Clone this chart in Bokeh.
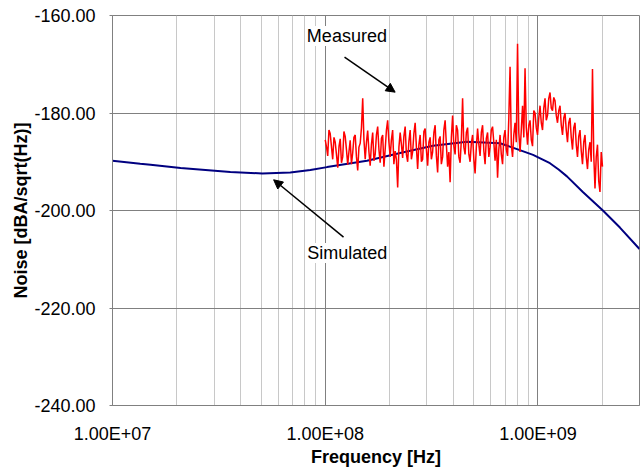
from bokeh.plotting import figure
from bokeh.models import (FixedTicker, CustomJSTickFormatter,
                          Label, Arrow, NormalHead, Range1d)
from bokeh.embed import file_html
from bokeh.resources import INLINE

# ---- data ----
sim_freq_mhz = [10, 13.5, 15.1, 20.9, 35.8, 50.6, 68.5, 85.1, 102, 157, 225, 321,
                464, 663, 797, 948, 1138, 1250, 1368, 1625, 2019, 2427, 3000]
sim_noise = [-189.8, -190.4, -190.6, -191.3, -192.1, -192.4, -192.2, -191.7, -191.1,
             -189.8, -188.2, -186.7, -185.9, -186.2, -187.4, -188.6, -190.3, -191.6,
             -193.0, -196.2, -200.0, -203.5, -207.9]

meas_freq_mhz = [
    100.0, 101.4, 102.7, 104.1, 105.5, 106.9, 108.4, 109.9, 111.4, 112.9,
    114.5, 116.1, 117.6, 119.2, 120.8, 122.4, 124.1, 125.8, 127.5, 129.2,
    131.0, 132.8, 134.6, 136.4, 138.3, 140.2, 142.1, 144.0, 146.0, 148.0,
    150.0, 152.0, 154.1, 156.2, 158.3, 160.5, 162.6, 164.8, 167.1, 169.4,
    171.7, 174.0, 176.4, 178.8, 181.2, 183.7, 186.2, 188.7, 191.3, 193.9,
    196.5, 199.2, 201.9, 204.6, 207.4, 210.2, 213.1, 216.0, 219.0, 222.0,
    225.0, 228.1, 231.1, 234.2, 237.5, 240.7, 244.0, 247.3, 250.7, 254.1,
    257.5, 261.0, 264.6, 268.2, 271.8, 275.5, 279.3, 283.1, 286.9, 290.8,
    294.8, 298.8, 302.9, 307.0, 311.2, 315.4, 319.7, 324.1, 328.5, 333.0,
    337.5, 342.1, 346.7, 351.4, 356.2, 361.0, 366.0, 371.0, 376.0, 381.1,
    386.3, 391.6, 396.9, 402.3, 407.8, 413.3, 418.9, 424.6, 430.4, 436.3,
    442.2, 448.2, 454.3, 460.5, 466.8, 473.2, 479.6, 486.1, 492.7, 499.4,
    506.2, 513.1, 520.1, 527.2, 534.3, 541.6, 549.0, 556.5, 564.0, 571.7,
    579.5, 587.4, 595.3, 603.4, 611.6, 619.9, 628.4, 637.0, 645.6, 654.4,
    663.3, 672.3, 681.5, 690.8, 700.2, 709.7, 719.4, 729.2, 739.1, 749.2,
    759.3, 769.6, 780.1, 790.7, 801.5, 812.4, 823.5, 834.7, 846.1, 857.6,
    869.2, 881.0, 893.1, 905.3, 917.5, 930.0, 942.7, 955.5, 968.5, 981.7,
    995.0, 1008.5, 1022.3, 1036.2, 1050.3, 1064.6, 1079.1, 1093.8, 1108.7, 1123.8,
    1139.1, 1154.6, 1170.3, 1186.2, 1202.4, 1218.8, 1235.3, 1252.1, 1269.2, 1286.5,
    1304.0, 1321.7, 1339.7, 1357.9, 1376.4, 1395.1, 1414.1, 1433.3, 1452.9, 1472.7,
    1492.7, 1513.0, 1533.6, 1554.5, 1575.6, 1597.0, 1618.8, 1640.8, 1663.2, 1685.8,
    1708.8, 1732.1, 1755.6, 1779.5, 1803.7, 1828.2, 1853.2, 1878.4, 1904.0, 1929.9,
    1956.1, 1982.7, 2009.7]
meas_noise = [
    -185.5, -187.0, -188.8, -183.5, -184.2, -186.8, -189.5, -185.0, -186.0, -188.5,
    -191.2, -186.8, -185.3, -190.2, -189.0, -183.8, -184.8, -187.5, -190.6, -188.0,
    -185.6, -190.5, -188.2, -185.0, -184.5, -189.0, -191.8, -187.0, -186.2, -183.0,
    -177.0, -185.5, -189.5, -186.0, -183.6, -188.0, -190.8, -186.5, -184.0, -189.8,
    -188.5, -184.5, -182.8, -187.5, -190.2, -185.2, -184.5, -191.0, -187.5, -183.5,
    -181.5, -186.0, -189.0, -185.5, -183.5, -190.5, -187.8, -189.5, -195.3, -187.0,
    -184.0, -186.5, -189.2, -184.8, -182.8, -188.5, -190.0, -185.8, -183.5, -189.5,
    -188.0, -184.2, -182.0, -187.0, -191.5, -186.5, -184.5, -190.0, -189.5, -183.8,
    -183.2, -187.5, -190.8, -186.0, -185.0, -189.5, -188.0, -184.0, -182.5, -188.8,
    -192.2, -185.5, -184.8, -190.5, -189.0, -183.5, -181.5, -186.5, -191.0, -188.0,
    -194.2, -185.0, -180.5, -186.8, -188.5, -182.5, -183.5, -189.0, -190.2, -185.5,
    -177.0, -187.0, -188.5, -184.0, -183.0, -188.5, -190.0, -186.2, -184.5, -189.5,
    -192.4, -187.0, -183.2, -186.5, -188.8, -184.0, -182.5, -187.8, -190.5, -185.2,
    -184.0, -189.0, -187.0, -183.5, -182.8, -186.0, -189.8, -185.5, -193.3, -187.5,
    -184.5, -188.5, -190.5, -185.0, -183.5, -187.5, -188.8, -181.0, -170.5, -186.5,
    -189.0, -184.5, -182.0, -186.0, -165.8, -184.0, -188.0, -183.5, -178.5, -185.0,
    -170.8, -183.0, -186.5, -182.5, -181.5, -185.5, -186.8, -179.5, -180.0, -183.0,
    -184.5, -181.0, -178.5, -182.0, -183.5, -179.0, -177.0, -181.5, -180.5, -177.0,
    -175.8, -179.0, -179.5, -176.8, -177.5, -180.5, -182.0, -179.5, -178.5, -182.5,
    -184.5, -181.0, -180.0, -183.5, -186.0, -182.0, -181.0, -185.0, -187.5, -183.0,
    -182.0, -186.5, -189.0, -184.8, -183.5, -187.8, -190.5, -186.0, -184.5, -189.0,
    -191.5, -187.5, -186.0, -190.0, -171.0, -188.5, -195.5, -189.0, -186.5, -194.0,
    -196.2, -188.0, -191.0]

x_major = [1e7, 1e8, 1e9]
x_minor = [m * d for d in (1e7, 1e8) for m in range(2, 10)] + [2e9, 3e9]
y_ticks = [-240, -220, -200, -180, -160]

FONT = "Liberation Sans"

p = figure(x_axis_type="log", output_backend="svg", toolbar_location=None,
           x_range=Range1d(1e7, 3e9), y_range=Range1d(-240, -160),
           frame_width=527, frame_height=390,
           min_border_left=112, min_border_top=15, min_border_right=1, min_border_bottom=62)
p.outline_line_color = "#808080"
p.outline_line_width = 1
p.background_fill_color = "white"
p.border_fill_color = "white"

# grids
p.xaxis.ticker = FixedTicker(ticks=x_major, minor_ticks=x_minor)
p.yaxis.ticker = FixedTicker(ticks=y_ticks)
p.xgrid.grid_line_color = "#808080"
p.xgrid.minor_grid_line_color = "#c8c8c8"
p.ygrid.grid_line_color = "#808080"

# axes
for ax in (p.xaxis[0], p.yaxis[0]):
    ax.axis_line_color = "#808080"
    ax.major_tick_line_color = "#808080"
    ax.minor_tick_line_color = None
    ax.major_label_text_font = FONT
    ax.major_label_text_font_size = "18px"
    ax.major_label_text_color = "black"
    ax.axis_label_text_font = FONT
    ax.axis_label_text_font_size = "18px"
    ax.axis_label_text_font_style = "bold"
    ax.axis_label_text_color = "black"

p.xaxis.major_tick_out = 0
p.xaxis.major_tick_in = 0
p.xaxis.major_label_standoff = 14
p.xaxis.axis_label = "Frequency [Hz]"
p.xaxis.axis_label_standoff = 0
p.xaxis.formatter = CustomJSTickFormatter(code="""
    const s = tick.toExponential(2);
    const parts = s.split('e');
    const sign = parts[1][0];
    let d = parts[1].slice(1);
    if (d.length < 2) d = '0' + d;
    return parts[0] + 'E' + sign + d;
""")

p.yaxis.major_tick_out = 3
p.yaxis.major_tick_in = 0
p.yaxis.major_label_standoff = 14
p.yaxis.axis_label = "Noise [dBA/sqrt(Hz)]"
p.yaxis.axis_label_standoff = 0
p.yaxis.formatter = CustomJSTickFormatter(code="return tick.toFixed(2);")

# data lines
sim_f = [f * 1e6 for f in sim_freq_mhz]
meas_f = [f * 1e6 for f in meas_freq_mhz]
p.line(sim_f, sim_noise, line_color="#000080", line_width=2)
p.line(meas_f, meas_noise, line_color="#ff0000", line_width=1.5)

# annotations
p.add_layout(Label(x=1.264e8, y=-164.2, text="Measured", text_align="center",
                   text_baseline="alphabetic", text_font=FONT, text_font_size="18px",
                   background_fill_color="white", text_color="black"))
p.add_layout(Label(x=1.27e8, y=-208.7, text="Simulated", text_align="center",
                   text_baseline="alphabetic", text_font=FONT, text_font_size="18px",
                   background_fill_color="white", text_color="black"))
p.add_layout(Arrow(x_start=1.232e8, y_start=-168.55, x_end=2.131e8, y_end=-175.73,
                   line_color="black", line_width=1.5,
                   end=NormalHead(size=9, fill_color="black", line_color="black")))
p.add_layout(Arrow(x_start=1.219e8, y_start=-205.47, x_end=5.72e7, y_end=-193.7,
                   line_color="black", line_width=1.5,
                   end=NormalHead(size=9, fill_color="black", line_color="black")))

open("out.html", "w").write(file_html(p, INLINE))
